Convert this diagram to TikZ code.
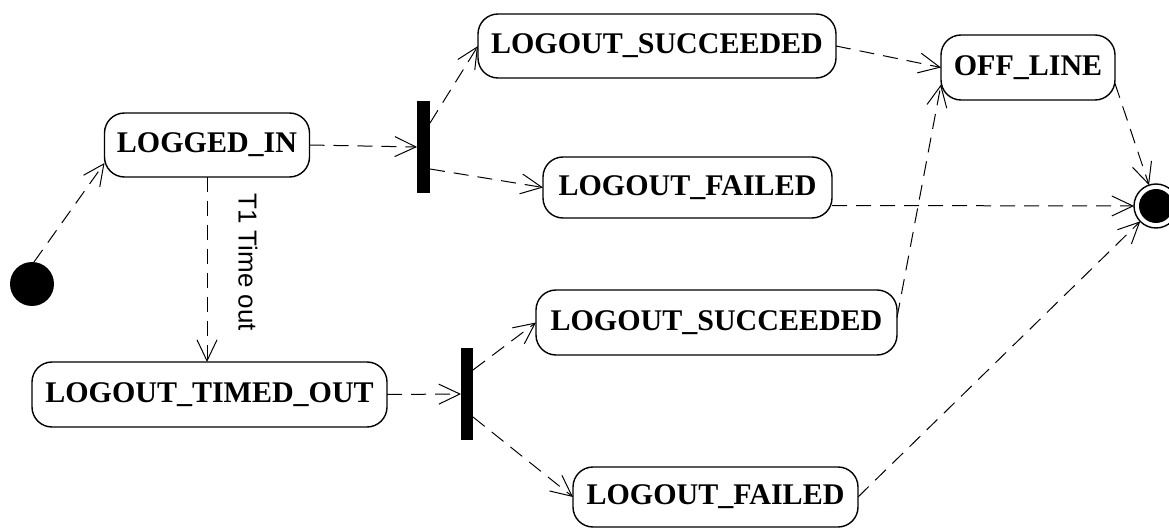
\documentclass[tikz,border=0pt]{standalone}
\usepackage{fontspec}
\setmainfont{Liberation Serif}
\setsansfont{Liberation Sans}
\usetikzlibrary{arrows.meta}
\begin{document}
\begin{tikzpicture}[x=1pt,y=-1pt,
  state/.style={draw, line width=1.4pt, rounded corners=20pt, inner sep=0pt, outer sep=0pt,
     font=\fontsize{30}{30}\selectfont\bfseries},
  bar/.style={fill=black, draw=none, inner sep=0pt, outer sep=0pt, minimum width=13pt, minimum height=92pt},
  trans/.style={draw, line width=1pt, dash pattern=on 15pt off 9pt,
     -{Straight Barb[length=21pt,width=20pt,line width=1pt]}}]
\useasboundingbox (0,0) rectangle (1169,529);
% nodes
\node[circle, fill=black, minimum size=44pt, inner sep=0pt, outer sep=0pt] (init) at (32,284) {};
\node[state, minimum width=205pt, minimum height=64pt] (li) at (207,145) {LOGGED\_IN};
\node[bar] (bar1) at (423.5,147) {};
\node[state, minimum width=358pt, minimum height=64pt] (ls1) at (657,46) {LOGOUT\_SUCCEEDED};
\node[state, minimum width=289pt, minimum height=61pt] (lf1) at (687.5,187.5) {LOGOUT\_FAILED};
\node[state, minimum width=174pt, minimum height=65pt] (off) at (1028,67.5) {OFF\_LINE};
\node[circle, draw, line width=1.4pt, minimum size=44pt, inner sep=0pt, outer sep=0pt] (fin) at (1156,206) {};
\fill (fin.center) circle (17pt);
\node[state, minimum width=355pt, minimum height=65pt] (lto) at (209.5,394.5) {LOGOUT\_TIMED\_OUT};
\node[bar, minimum width=12pt] (bar2) at (467,394) {};
\node[state, minimum width=361pt, minimum height=65pt] (ls2) at (716.5,322.5) {LOGOUT\_SUCCEEDED};
\node[state, minimum width=285pt, minimum height=60pt] (lf2) at (715.5,497) {LOGOUT\_FAILED};
\node[rotate=-90, inner sep=0pt, font=\sffamily\fontsize{26}{26}\selectfont] (lbl) at (248,262) {T1 Time out};
% connectors
\draw[trans] (init.85) -- ([yshift=-18pt]li.west);
\draw[trans] (li.east) -- (bar1.west);
\draw[trans] (li.south) -- (li.south |- lto.north);
\draw[trans] ([yshift=24pt]bar1.east) -- (ls1.west);
\draw[trans] ([yshift=-22pt]bar1.east) -- (lf1.west);
\draw[trans] (ls1.east) -- (off.west);
\draw[trans] ([yshift=-18pt]lf1.east) -- (fin.west);
\draw[trans] ([yshift=-16pt]off.east) -- (fin);
\draw[trans] ([yshift=5pt]ls2.east) -- ([yshift=-17pt]off.west);
\draw[trans] (lf2.east) -- (fin);
\draw[trans] (lto.east) -- (bar2.west);
\draw[trans] ([yshift=24pt]bar2.east) -- (ls2.west);
\draw[trans] ([yshift=-23pt]bar2.east) -- (lf2.west);
\end{tikzpicture}
\end{document}
